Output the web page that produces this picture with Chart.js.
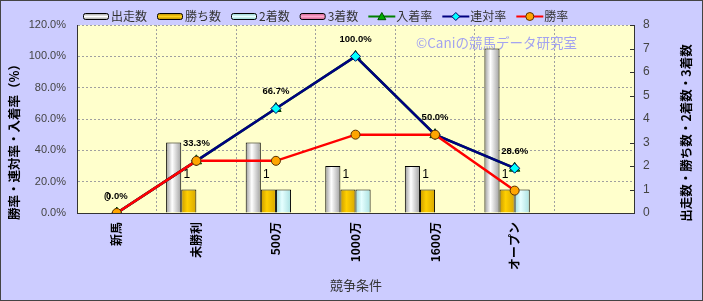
<!DOCTYPE html>
<html>
<head>
<meta charset="utf-8">
<script src="https://cdn.jsdelivr.net/npm/chart.js@4.4.1/dist/chart.umd.min.js"></script>
<style>
  html, body { margin: 0; padding: 0; background: #CCCCFF; }
  #wrap { width: 703px; height: 301px; position: relative; }
</style>
</head>
<body>
<div id="wrap"><canvas id="chart" width="703" height="301"></canvas></div>
<script>
// データ
const categories = ['新馬', '未勝利', '500万', '1000万', '1600万', 'オープン', ''];
const starts = [0, 3, 3, 2, 2, 7, null];       // 出走数
const wins = [0, 1, 1, 1, 1, 1, null];         // 勝ち数
const seconds = [0, 0, 1, 1, 0, 1, null];      // 2着数
const thirds = [0, 0, 0, 0, 0, 0, null];       // 3着数
const placeRate = [0, 33.3, 66.7, 100, 50, 28.6, null];   // 入着率
const rentaiRate = [0, 33.3, 66.7, 100, 50, 28.6, null];  // 連対率
const winRate = [0, 33.3, 33.3, 50, 50, 14.3, null];      // 勝率
const rateTicks = [0, 20, 40, 60, 80, 100, 120];
const countTicks = [0, 1, 2, 3, 4, 5, 6, 7, 8];

const FONT = '"Liberation Sans", "Noto Sans CJK JP", sans-serif';
const JP = '"Noto Sans CJK JP", "Liberation Sans", sans-serif';
Chart.defaults.font.family = FONT;

// 棒グラフのグラデーション（横方向）
const barFill = (c0, c1, c2) => (ctx) => {
    const el = ctx.element;
    if (!el || !isFinite(el.x) || !el.width) return c1;
    const g = ctx.chart.ctx.createLinearGradient(el.x - el.width / 2, 0, el.x + el.width / 2, 0);
    g.addColorStop(0, c0);
    g.addColorStop(0.4, c1);
    g.addColorStop(1, c2);
    return g;
};

const legendItems = [
    { text: '出走数', type: 'box', colors: ['#9a9a9a', '#ffffff', '#9a9a9a'] },
    { text: '勝ち数', type: 'box', colors: ['#b88a00', '#ffd21a', '#b88a00'] },
    { text: '2着数', type: 'box', colors: ['#8ccccc', '#e8ffff', '#8ccccc'] },
    { text: '3着数', type: 'box', colors: ['#cc5f8f', '#ffa8cc', '#cc5f8f'] },
    { text: '入着率', type: 'line', line: '#008000', marker: 'triangle', fill: '#00b000', stroke: '#005000' },
    { text: '連対率', type: 'line', line: '#000080', marker: 'diamond', fill: '#00ffff', stroke: '#000060' },
    { text: '勝率', type: 'line', line: '#ff0000', marker: 'circle', fill: '#ffa500', stroke: '#5a3000' }
];

function drawMarker(ctx, kind, x, y, r, fill, stroke) {
    ctx.save();
    ctx.fillStyle = fill;
    ctx.strokeStyle = stroke;
    ctx.lineWidth = 1;
    ctx.beginPath();
    if (kind === 'circle') {
        ctx.arc(x, y, r, 0, Math.PI * 2);
    } else if (kind === 'diamond') {
        ctx.moveTo(x, y - r); ctx.lineTo(x + r, y); ctx.lineTo(x, y + r); ctx.lineTo(x - r, y); ctx.closePath();
    } else {
        ctx.moveTo(x, y - r); ctx.lineTo(x + r, y + r * 0.8); ctx.lineTo(x - r, y + r * 0.8); ctx.closePath();
    }
    ctx.fill();
    ctx.stroke();
    ctx.restore();
}

const decor = {
    id: 'decor',
    beforeDraw(chart) {
        const { ctx, chartArea: a } = chart;
        ctx.save();
        ctx.fillStyle = '#CCCCFF';
        ctx.fillRect(0, 0, chart.width, chart.height);
        ctx.fillStyle = '#FFFFCC';
        ctx.fillRect(a.left, a.top, a.right - a.left, a.bottom - a.top);
        ctx.restore();
    },
    beforeDatasetsDraw(chart) {
        const { ctx } = chart;
        // 透かし
        ctx.save();
        ctx.font = '13.5px ' + JP;
        ctx.fillStyle = '#a3a3f0';
        ctx.textBaseline = 'middle';
        ctx.fillText('©Caniの競馬データ研究室', 416, 43);
        ctx.restore();
    },
    afterDatasetsDraw(chart) {
        const { ctx } = chart;
        ctx.save();
        // 連対率ラベル
        const rMeta = chart.getDatasetMeta(1);
        ctx.font = 'bold 9.5px ' + FONT;
        ctx.fillStyle = '#000';
        ctx.textAlign = 'center';
        ctx.textBaseline = 'middle';
        rMeta.data.forEach((p, i) => {
            if (rentaiRate[i] == null) return;
            ctx.fillText(rentaiRate[i].toFixed(1) + '%', p.x, p.y - 17);
        });
        // 勝ち数ラベル
        const wMeta = chart.getDatasetMeta(4);
        ctx.font = '12px ' + FONT;
        wMeta.data.forEach((b, i) => {
            if (wins[i] == null) return;
            ctx.fillText(String(wins[i]), b.x - 2, b.y - 15);
        });
        ctx.restore();
    },
    afterDraw(chart) {
        const { ctx, chartArea: a } = chart;
        ctx.save();
        // 右軸の内向き目盛
        const y1 = chart.scales.y1;
        ctx.strokeStyle = '#333';
        ctx.lineWidth = 1;
        countTicks.forEach(v => {
            const y = Math.round(y1.getPixelForValue(v)) + 0.5;
            ctx.beginPath(); ctx.moveTo(a.right - 4, y); ctx.lineTo(a.right, y); ctx.stroke();
        });
        // 軸タイトル
        ctx.fillStyle = '#000';
        ctx.textAlign = 'center';
        ctx.textBaseline = 'middle';
        ctx.font = 'bold 12.5px ' + JP;
        ctx.save();
        ctx.translate(14, 139);
        ctx.rotate(-Math.PI / 2);
        ctx.fillText('勝率・連対率・入着率（%）', 0, 0);
        ctx.restore();
        ctx.save();
        ctx.translate(686, 133);
        ctx.rotate(-Math.PI / 2);
        ctx.fillText('出走数・勝ち数・2着数・3着数', 0, 0);
        ctx.restore();
        ctx.fillStyle = '#333';
        ctx.font = '13px ' + JP;
        ctx.fillText('競争条件', 356, 285);

        // 凡例
        let x = 83;
        const ly = 16.5;
        ctx.textAlign = 'left';
        ctx.font = '12px ' + JP;
        legendItems.forEach(it => {
            if (it.type === 'box') {
                const g = ctx.createLinearGradient(0, ly - 3, 0, ly + 3);
                g.addColorStop(0, it.colors[0]);
                g.addColorStop(0.5, it.colors[1]);
                g.addColorStop(1, it.colors[2]);
                ctx.fillStyle = g;
                ctx.strokeStyle = '#000';
                ctx.lineWidth = 1;
                ctx.beginPath();
                ctx.roundRect(x + 0.5, ly - 3, 25, 6, 2);
                ctx.fill();
                ctx.stroke();
            } else {
                ctx.strokeStyle = it.line;
                ctx.lineWidth = 2;
                ctx.beginPath(); ctx.moveTo(x, ly); ctx.lineTo(x + 27, ly); ctx.stroke();
                drawMarker(ctx, it.marker, x + 13.5, ly, 4, it.fill, it.stroke);
            }
            x += 28;
            ctx.fillStyle = '#333';
            ctx.fillText(it.text, x, ly);
            x += ctx.measureText(it.text).width + 10;
        });

        // 外枠
        ctx.strokeStyle = '#444';
        ctx.lineWidth = 1;
        ctx.strokeRect(0.5, 0.5, chart.width - 1, chart.height - 1);
        ctx.restore();
    }
};

const chart = new Chart(document.getElementById('chart'), {
    type: 'bar',
    data: {
        labels: categories,
        datasets: [
            {
                type: 'line', label: '勝率', data: winRate, yAxisID: 'y', order: 0,
                borderColor: '#ff0000', borderWidth: 2.5, pointStyle: 'circle', pointRadius: 4.5,
                pointBackgroundColor: '#ffa500', pointBorderColor: '#5a3000', pointBorderWidth: 1
            },
            {
                type: 'line', label: '連対率', data: rentaiRate, yAxisID: 'y', order: 1,
                borderColor: '#000080', borderWidth: 2.5, pointStyle: 'rectRot', pointRadius: 5,
                pointBackgroundColor: '#00ffff', pointBorderColor: '#000060', pointBorderWidth: 1
            },
            {
                type: 'line', label: '入着率', data: placeRate, yAxisID: 'y', order: 2,
                borderColor: '#008000', borderWidth: 2.5, pointStyle: 'triangle', pointRadius: 6,
                pointBackgroundColor: '#00b000', pointBorderColor: '#004000', pointBorderWidth: 1
            },
            {
                label: '出走数', data: starts, yAxisID: 'y1', order: 3,
                backgroundColor: barFill('#9a9a9a', '#ffffff', '#a0a0a0'),
                borderColor: '#000', borderWidth: 1, borderSkipped: 'bottom'
            },
            {
                label: '勝ち数', data: wins, yAxisID: 'y1', order: 4,
                backgroundColor: barFill('#c99a00', '#ffd000', '#d8a800'),
                borderColor: '#000', borderWidth: 1, borderSkipped: 'bottom'
            },
            {
                label: '2着数', data: seconds, yAxisID: 'y1', order: 5,
                backgroundColor: barFill('#9fdcdc', '#e6ffff', '#a8e0e0'),
                borderColor: '#000', borderWidth: 1, borderSkipped: 'bottom'
            },
            {
                label: '3着数', data: thirds, yAxisID: 'y1', order: 6,
                backgroundColor: barFill('#e070a0', '#ffb0d0', '#e070a0'),
                borderColor: '#000', borderWidth: 1, borderSkipped: 'bottom'
            }
        ]
    },
    options: {
        responsive: false,
        animation: false,
        layout: { padding: { top: 25, left: 0, right: 0, bottom: 0 } },
        datasets: { bar: { categoryPercentage: 0.76, barPercentage: 1 } },
        plugins: { legend: { display: false }, tooltip: { enabled: false } },
        scales: {
            x: {
                offset: true,
                grid: { color: '#a0a0a0', offset: true, drawTicks: false },
                border: { color: '#333', dash: [2, 2] },
                ticks: {
                    minRotation: 90, maxRotation: 90, autoSkip: false, padding: 9,
                    color: '#000', font: { family: JP, size: 12, weight: 'bold' }
                },
                afterFit: s => { s.height = 88; }
            },
            y: {
                position: 'left', min: 0, max: 120,
                afterBuildTicks: s => { s.ticks = rateTicks.map(v => ({ value: v })); },
                grid: { color: '#a0a0a0', drawTicks: false },
                border: { color: '#333', dash: [2, 2] },
                ticks: { padding: 11, color: '#444', font: { size: 11 }, callback: v => v.toFixed(1) + '%' },
                afterFit: s => { s.width = 77; }
            },
            y1: {
                position: 'right', min: 0, max: 8,
                afterBuildTicks: s => { s.ticks = countTicks.map(v => ({ value: v })); },
                grid: { drawOnChartArea: false, drawTicks: false },
                border: { color: '#333' },
                ticks: { padding: 9, color: '#444', font: { size: 12 } },
                afterFit: s => { s.width = 69; }
            }
        }
    },
    plugins: [decor]
});
// グラデーションを要素位置で作り直す
chart.update('none');
</script>
</body>
</html>
